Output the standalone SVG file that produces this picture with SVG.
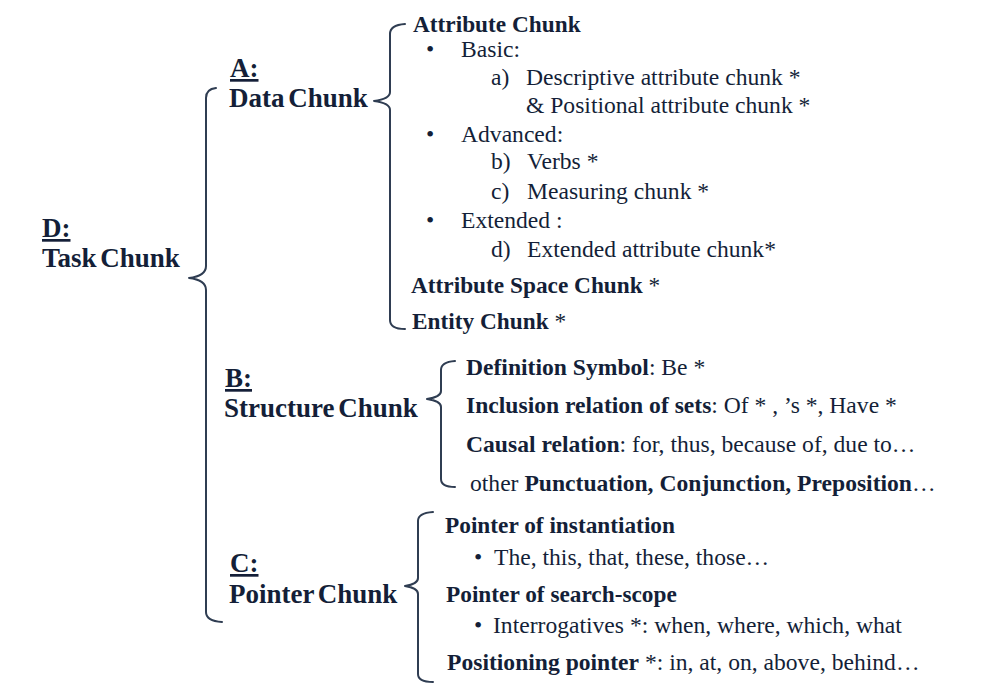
<svg xmlns="http://www.w3.org/2000/svg" width="996" height="692" viewBox="0 0 996 692">
<style>
.h{font-size:27px;font-weight:bold;word-spacing:-3px}
.u{font-size:27px;font-weight:bold;text-decoration:underline}
.b{font-size:23.3px;font-weight:bold}
.r{font-size:23.6px}
.n{font-weight:normal}
.bb{font-weight:bold}
.br{fill:none;stroke:#2f3d52;stroke-width:2;stroke-linecap:round;stroke-linejoin:round}
</style>
<rect width="996" height="692" fill="#ffffff"/>
<g id="connectors">
<path class="br" d="M216,88 Q206,89 206,98 L206,266 Q206,276 189,278 Q206,280 206,290 L206,612 Q206,621 222,622"/>
<path class="br" d="M405,24 Q390,25 390,34 L390,92 Q390,99 374,101 Q390,103 390,110 L390,320 Q390,329 405,329"/>
<path class="br" d="M455,361 Q441,362 441,370 L441,391 Q441,397 427,399 Q441,401 441,407 L441,479 Q441,487 455,487"/>
<path class="br" d="M433,512 Q418,513 418,521 L418,578 Q418,584 405,586 Q418,588 418,594 L418,674 Q418,682 433,682"/>
</g>
<g font-family="Liberation Serif, Times New Roman, Tinos, DejaVu Serif, serif" fill="#141f38">
<g id="task">
<text class="u" x="42" y="237">D:</text>
<text class="h" x="42" y="267">Task Chunk</text>
</g>
<g id="data">
<text class="u" x="230" y="77">A:</text>
<text class="h" x="229" y="107">Data Chunk</text>
</g>
<g id="structure">
<text class="u" x="225" y="387">B:</text>
<text class="h" x="224" y="417">Structure Chunk</text>
</g>
<g id="pointer">
<text class="u" x="230" y="572">C:</text>
<text class="h" x="229" y="603">Pointer Chunk</text>
</g>
<g id="attribute-chunk">
<text class="b" x="413" y="32">Attribute Chunk</text>
<text class="r" x="426" y="57">•</text>
<text class="r" x="461" y="57">Basic:</text>
<text class="r" x="491" y="85">a)</text>
<text class="r" x="526" y="85">Descriptive attribute chunk *</text>
<text class="r" x="526" y="113">&amp; Positional attribute chunk *</text>
<text class="r" x="426" y="142">•</text>
<text class="r" x="461" y="142">Advanced:</text>
<text class="r" x="491" y="169">b)</text>
<text class="r" x="527" y="169">Verbs *</text>
<text class="r" x="491" y="199">c)</text>
<text class="r" x="527" y="199">Measuring chunk *</text>
<text class="r" x="426" y="228">•</text>
<text class="r" x="461" y="228">Extended :</text>
<text class="r" x="491" y="257">d)</text>
<text class="r" x="527" y="257">Extended attribute chunk*</text>
</g>
<g id="attribute-space-chunk">
<text class="b" x="411" y="293">Attribute Space Chunk <tspan class="n">*</tspan></text>
</g>
<g id="entity-chunk">
<text class="b" x="412" y="329">Entity Chunk <tspan class="n">*</tspan></text>
</g>
<g id="definition-symbol">
<text class="r" x="466" y="375"><tspan class="bb">Definition Symbol</tspan>: Be *</text>
</g>
<g id="inclusion-relation">
<text class="r" x="466" y="413"><tspan class="bb">Inclusion relation of sets</tspan>: Of * , ’s *, Have *</text>
</g>
<g id="causal-relation">
<text class="r" x="466" y="452"><tspan class="bb">Causal relation</tspan>: for, thus, because of, due to…</text>
</g>
<g id="other">
<text class="r" x="470" y="491" font-size="23.8">other <tspan class="bb">Punctuation, Conjunction, Preposition</tspan>…</text>
</g>
<g id="pointer-instantiation">
<text class="b" x="445" y="533">Pointer of instantiation</text>
<text class="r" x="474" y="565">•</text>
<text class="r" x="494" y="565">The, this, that, these, those…</text>
</g>
<g id="pointer-search-scope">
<text class="b" x="446" y="602">Pointer of search-scope</text>
<text class="r" x="474" y="633">•</text>
<text class="r" x="493" y="633">Interrogatives *: when, where, which, what</text>
</g>
<g id="positioning-pointer">
<text class="r" x="447" y="670"><tspan class="bb">Positioning pointer</tspan> *: in, at, on, above, behind…</text>
</g>
</g>
</svg>
